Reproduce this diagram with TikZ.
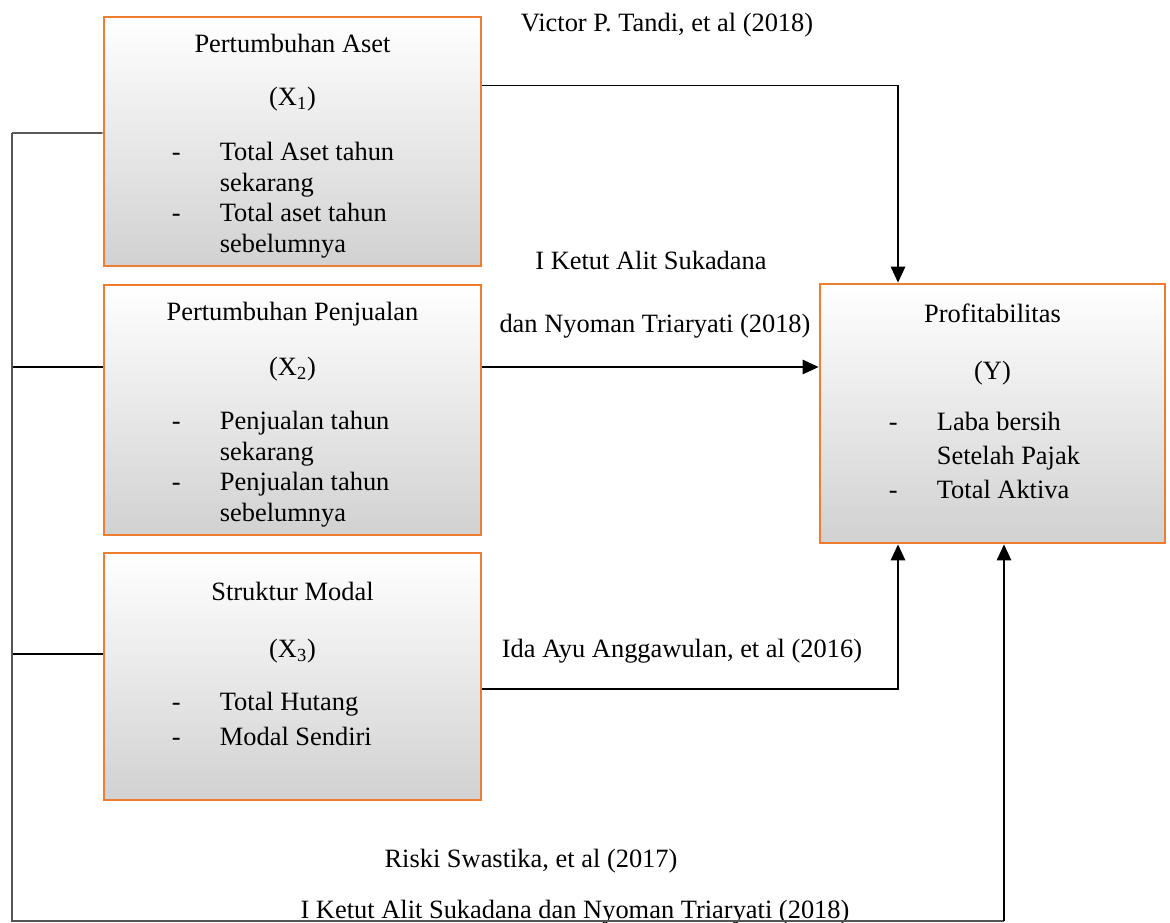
\documentclass[tikz,border=0pt]{standalone}
\usepackage{fontspec}
\setmainfont{Liberation Serif}
\usepackage{tikz}
\usetikzlibrary{arrows.meta,positioning,calc}
\definecolor{varEdge}{RGB}{237,125,49}
\definecolor{busGray}{RGB}{85,85,85}
\tikzset{
    every node/.append style={align=center},
    var/.style={rectangle,draw=varEdge,line width=2pt,top color=white,middle color=black!4,
        bottom color=black!18,minimum width=9.425cm,inner sep=0pt},
    lbl/.style={font=\fontsize{18.8}{21.8}\selectfont,inner sep=0pt,anchor=base},
    lst/.style={font=\fontsize{18.8}{#1}\selectfont,inner sep=0pt,anchor=base west,align=left},
    lst/.default=21.8,
    arr/.style={-{Triangle[length=4mm,width=3.6mm]},line width=1.2pt},
    link/.style={line width=0.8pt},
    bus/.style={draw=busGray,line width=1.2pt}
}

\begin{document}
\begin{tikzpicture}
    \useasboundingbox (0,0) rectangle (29.25,-23.075);

    % variabel bebas
    \node[var,minimum height=6.225cm] (x1) at (7.3125,-3.5375) {};
    \node[lbl] (x1t) at ($(x1.north)+(0,-0.925)$) {Pertumbuhan Aset};
    \node[lbl] (x1s) at ($(x1.north)+(0,-2.25)$) {(X\textsubscript{1})};
    \node[lst] (x1l) at ($(x1.north west)+(1.725,-3.625)$)
        {\begin{tabular}[t]{@{}p{1.2cm}@{}l@{}}-&Total Aset tahun\\&sekarang\\-&Total aset tahun\\&sebelumnya\end{tabular}};

    \node[var,minimum height=6.25cm] (x2) at (7.3125,-10.25) {};
    \node[lbl] (x2t) at ($(x2.north)+(0,-0.925)$) {Pertumbuhan Penjualan};
    \node[lbl] (x2s) at ($(x2.north)+(0,-2.3)$) {(X\textsubscript{2})};
    \node[lst] (x2l) at ($(x2.north west)+(1.725,-3.65)$)
        {\begin{tabular}[t]{@{}p{1.2cm}@{}l@{}}-&Penjualan tahun\\&sekarang\\-&Penjualan tahun\\&sebelumnya\end{tabular}};

    \node[var,minimum height=6.175cm] (x3) at (7.3125,-16.9125) {};
    \node[lbl] (x3t) at ($(x3.north)+(0,-1.225)$) {Struktur Modal};
    \node[lbl] (x3s) at ($(x3.north)+(0,-2.65)$) {(X\textsubscript{3})};
    \node[lst=24.5] (x3l) at ($(x3.north west)+(1.725,-3.975)$)
        {\begin{tabular}[t]{@{}p{1.2cm}@{}l@{}}-&Total Hutang\\-&Modal Sendiri\end{tabular}};

    % variabel terikat
    \node[var,minimum width=8.625cm,minimum height=6.475cm] (y) at (24.8125,-10.3375) {};
    \node[lbl] (yt) at ($(y.north)+(0,-1.0)$) {Profitabilitas};
    \node[lbl] (ys) at ($(y.north)+(0,-2.425)$) {(Y)};
    \node[lst=24.3] (yl) at ($(y.north west)+(1.75,-3.7)$)
        {\begin{tabular}[t]{@{}p{1.2cm}@{}l@{}}-&Laba bersih\\&Setelah Pajak\\-&Total Aktiva\end{tabular}};

    % sumber penelitian
    \node[lbl] (lvictor) at (16.675,-0.8) {Victor P. Tandi, et al (2018)};
    \node[lbl] (lketuta) at (16.275,-6.75) {I Ketut Alit Sukadana};
    \node[lbl] (lketutb) at (16.375,-8.3) {dan Nyoman Triaryati (2018)};
    \node[lbl] (lida) at (17.05,-16.425) {Ida Ayu Anggawulan, et al (2016)};
    \node[lbl] (lriski) at (13.275,-21.675) {Riski Swastika, et al (2017)};
    \node[lbl] (lketutc) at (14.375,-22.95) {I Ketut Alit Sukadana dan Nyoman Triaryati (2018)};

    % hubungan parsial
    \coordinate (ya) at ([xshift=-2.3625cm]y.north);
    \coordinate (yb) at ([xshift=-2.3625cm]y.south);
    \coordinate (yc) at ([xshift=0.2875cm]y.south);
    \draw[arr] ([yshift=-1.75cm]x1.north east) -| (ya);
    \draw[arr] ([yshift=1.075cm]x2.east) -- ([yshift=1.075cm]x2.east -| y.west);
    \draw[arr] ([yshift=-0.3125cm]x3.east) -| (yb);

    % hubungan simultan
    \coordinate (bt) at (0.3,-3.325);
    \coordinate (bb) at (0.3,-23.025);
    \draw[link] ([yshift=0.2125cm]x1.west) -- (bt);
    \draw[link] ([yshift=1.075cm]x2.west) -- ++(-2.3,0);
    \draw[link] ([yshift=0.5625cm]x3.west) -- ++(-2.3,0);
    \draw[bus] (bt) -- (bb) -- (bb -| yc);
    \draw[arr] (bb -| yc) -- (yc);
\end{tikzpicture}
\end{document}
